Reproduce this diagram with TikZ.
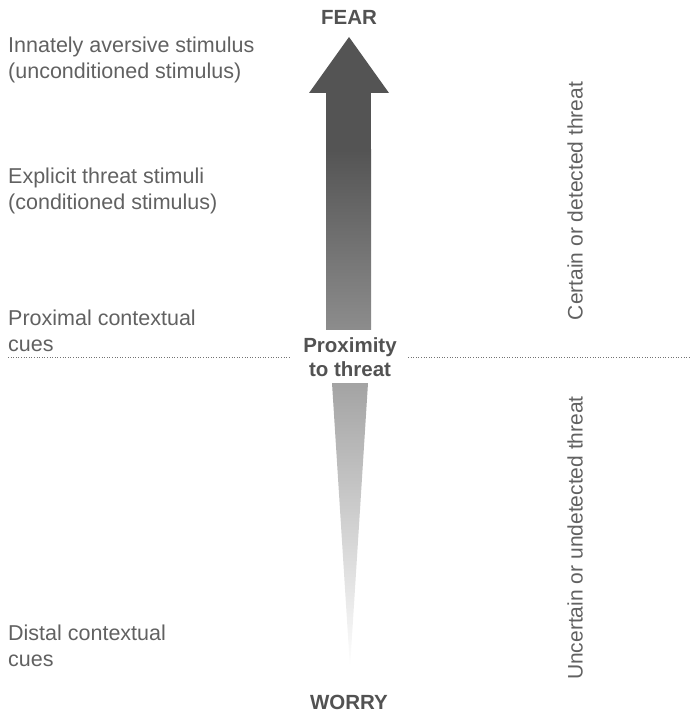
\documentclass[tikz,border=0pt]{standalone}
\usepackage{fontspec}
\setmainfont{Liberation Sans}
\begin{document}
\begin{tikzpicture}[x=1pt,y=-1pt,
  lbl/.style={anchor=west,inner sep=0pt,text=black!62,font=\fontsize{21.5}{26}\selectfont,align=left},
  side/.style={inner sep=0pt,text=black!62,font=\fontsize{21}{24}\selectfont,rotate=90},
  pole/.style={inner sep=0pt,text=black!68,font=\fontsize{20.5}{24}\selectfont\bfseries},
  divider/.style={black!55,line width=0.9pt,dash pattern=on 1pt off 1.6pt}]
\useasboundingbox (0,0) rectangle (689,714);
\definecolor{headgray}{gray}{0.33}
% upper arrow: solid head, shaded shaft
\fill[headgray] (349,37) -- (389,93) -- (309,93) -- cycle;
\fill[headgray] (326,92.5) rectangle (371,150.5);
\shade[top color=headgray,bottom color=black!45] (326,150) rectangle (371,329);
% lower tapering wedge
\shade[top color=black!36,bottom color=white] (332,383) -- (368,383) -- (350,668) -- cycle;
% poles
\node[pole] (fear) at (349,17) {FEAR};
\node[pole] (worry) at (349,702) {WORRY};
\node[pole,align=center,font=\fontsize{20.5}{24}\selectfont\bfseries] (prox) at (350,357) {Proximity\\to threat};
% divider
\coordinate (dl) at (8,357);
\coordinate (dr) at (689,357);
\draw[divider] (dl) -- (prox.west -| 289,357);
\draw[divider] (prox.east -| 408,357) -- (dr);
% left labels
\node[lbl] (innate) at (8,60) {Innately aversive stimulus\\(unconditioned stimulus)};
\node[lbl] (explicit) at (8,191) {Explicit threat stimuli\\(conditioned stimulus)};
\node[lbl] (proximal) at (8,331) {Proximal contextual\\cues};
\node[lbl] (distal) at (8,646) {Distal contextual\\cues};
% right labels
\node[side] (certain) at (575,201) {Certain or detected threat};
\node[side] (uncertain) at (575,538) {Uncertain or undetected threat};
\end{tikzpicture}
\end{document}
